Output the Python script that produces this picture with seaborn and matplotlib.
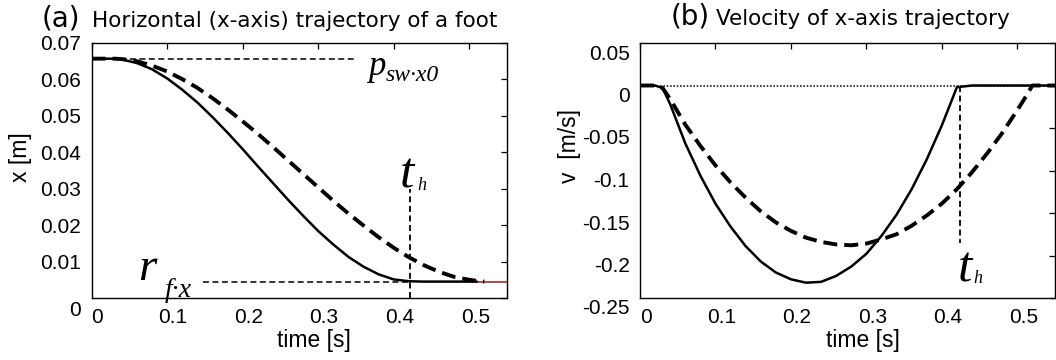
import numpy as np
import pandas as pd
import matplotlib
matplotlib.use("Agg")
import matplotlib.pyplot as plt
import matplotlib.transforms as mtransforms
import seaborn as sns

# ---------------- data ----------------
time_s = [0.00, 0.02, 0.03, 0.04, 0.06, 0.08, 0.10, 0.12, 0.14, 0.16, 0.18,
          0.20, 0.22, 0.24, 0.26, 0.28, 0.30, 0.32, 0.34, 0.36, 0.38, 0.40,
          0.42, 0.44, 0.46, 0.48, 0.50, 0.51, 0.52, 0.54, 0.55]

# (a) horizontal position x [m]
pos_solid = [0.0657, 0.0657, 0.0657, 0.0655, 0.0645, 0.0628, 0.0603, 0.0572,
             0.0537, 0.0497, 0.0454, 0.0409, 0.0362, 0.0316, 0.0270, 0.0226,
             0.0184, 0.0147, 0.0113, 0.0086, 0.0065, 0.0051, 0.0046, 0.0045,
             0.0045, 0.0045, 0.0045, 0.0045, np.nan, np.nan, np.nan]
pos_dashed = [0.0657, 0.0657, 0.0657, 0.0656, 0.0650, 0.0638, 0.0622, 0.0601,
              0.0577, 0.0549, 0.0518, 0.0485, 0.0451, 0.0415, 0.0378, 0.0341,
              0.0304, 0.0267, 0.0232, 0.0199, 0.0167, 0.0138, 0.0112, 0.0090,
              0.0072, 0.0058, 0.0050, 0.0047, 0.0045, np.nan, np.nan]
pos_red = [np.nan] * 27 + [0.0045, 0.0045, 0.0045, 0.0045]

# (b) velocity v [m/s]
vel_solid = [0.0, 0.0, -0.003, -0.022, -0.068, -0.106, -0.139, -0.166, -0.189,
             -0.207, -0.220, -0.228, -0.232, -0.231, -0.224, -0.213, -0.198,
             -0.177, -0.152, -0.122, -0.087, -0.047, -0.002, 0.0, 0.0, 0.0,
             0.0, 0.0, 0.0, 0.0, 0.0]
vel_dashed = [0.0, 0.0, -0.003, -0.016, -0.046, -0.071, -0.094, -0.114, -0.132,
              -0.148, -0.161, -0.171, -0.179, -0.184, -0.187, -0.188, -0.186,
              -0.181, -0.175, -0.165, -0.153, -0.139, -0.122, -0.102, -0.080,
              -0.056, -0.029, -0.015, 0.0, 0.0, 0.0]

# reference values
p_sw_x0 = 0.0657          # start position
r_f_x = 0.0045            # final position
p_line_end = 0.352
r_line_start = 0.147
t_h_a = 0.422
t_h_a_top = 0.030
t_h_b = 0.424
t_h_b_bottom = -0.185

# ticks
x_ticks = [0, 0.1, 0.2, 0.3, 0.4, 0.5]
x_ticklabels = ["0", "0.1", "0.2", "0.3", "0.4", "0.5"]
pos_yticks = [0, 0.01, 0.02, 0.03, 0.04, 0.05, 0.06, 0.07]
pos_yticklabels = ["0", "0.01", "0.02", "0.03", "0.04", "0.05", "0.06", "0.07"]
vel_yticks = [0.05, 0, -0.05, -0.1, -0.15, -0.2, -0.25]
vel_yticklabels = ["0.05", "0", "-0.05", "-0.1", "-0.15", "-0.2", "-0.25"]

# ---------------- styling ----------------
sns.set_theme(style="white")
plt.rcParams["font.family"] = ["Liberation Sans", "DejaVu Sans"]
plt.rcParams["axes.edgecolor"] = "black"
plt.rcParams["text.color"] = "black"
plt.rcParams["axes.labelcolor"] = "black"
plt.rcParams["xtick.color"] = "black"
plt.rcParams["ytick.color"] = "black"

W, H = 1056, 360
fig = plt.figure(figsize=(W / 100, H / 100), dpi=100)
fig.patch.set_facecolor("white")
axL = fig.add_axes([91.5 / W, 62 / H, 415.5 / W, 255 / H])
axR = fig.add_axes([640 / W, 62 / H, 415 / W, 255 / H])

SERIF = ["Liberation Serif", "DejaVu Serif"]


def draw(ax, x, y, lw, dashes=None, color="black", zorder=2):
    df = pd.DataFrame({"t": x, "v": y}).dropna()
    sns.lineplot(data=df, x="t", y="v", ax=ax, color=color, linewidth=lw,
                 estimator=None, sort=False, zorder=zorder)
    line = ax.lines[-1]
    if dashes is not None:
        line.set_dashes(dashes)
        line.set_dash_capstyle("butt")
    return line


# ---- panel (a) ----
draw(axL, time_s, pos_red, 1.4, color="#b44a4a", zorder=1)
draw(axL, [0, p_line_end], [p_sw_x0, p_sw_x0], 1.1, dashes=(3.9, 2.3), zorder=1.5)
draw(axL, [r_line_start, t_h_a], [r_f_x, r_f_x], 1.1, dashes=(3.9, 2.3), zorder=1.5)
draw(axL, [t_h_a, t_h_a], [0, t_h_a_top], 1.3, dashes=(3.3, 2.0), zorder=1.5)
draw(axL, time_s, pos_solid, 1.8)
draw(axL, time_s, pos_dashed, 2.8, dashes=(3.6, 1.8))

# ---- panel (b) ----
draw(axR, [0, 0.55], [0, 0], 1.2, dashes=(1, 1), color="#222222", zorder=1)
draw(axR, [t_h_b, t_h_b], [0, t_h_b_bottom], 1.3, dashes=(3.3, 2.0), zorder=1.5)
draw(axR, time_s, vel_solid, 1.8)
draw(axR, time_s, vel_dashed, 2.8, dashes=(3.6, 1.8))

for ax in (axL, axR):
    ax.set_xlim(0, 0.55)
    ax.set_xticks(x_ticks, x_ticklabels)
    ax.tick_params(direction="in", length=4, width=0.9, top=True, right=True,
                   labelsize=15, pad=7, colors="black", labelcolor="black")
    ax.tick_params(axis="y", pad=7.5)
    for s in ax.spines.values():
        s.set_color("black")
        s.set_linewidth(1.0)
    ax.grid(False)
    ax.set_facecolor("white")

axL.set_ylim(0, 0.07)
axL.set_yticks(pos_yticks, pos_yticklabels)
axR.set_ylim(-0.25, 0.05)
axR.set_yticks(vel_yticks, vel_yticklabels)

axL.set_xlabel("time [s]", fontsize=16.5)
axR.set_xlabel("time [s]", fontsize=16.5)
axL.set_ylabel("x [m]", fontsize=16.5)
axR.set_ylabel("v  [m/s]", fontsize=16.5)
for ax in (axL, axR):
    ax.xaxis.set_label_coords(0.536, -0.122)
axL.yaxis.set_label_coords(-0.142, 0.553)
axR.yaxis.set_label_coords(-0.143, 0.596)

# tick label offsets (as in the reference raster)
def shift(label, dx, dy):
    label.set_transform(label.get_transform() +
                        mtransforms.ScaledTranslation(dx / 100, dy / 100, fig.dpi_scale_trans))

for ax in (axL, axR):
    for lab in ax.get_xticklabels():
        shift(lab, 6, 0)
for lab in axR.get_yticklabels():
    shift(lab, 0, -9)
for lab in axL.get_yticklabels():
    if lab.get_text() == "0":
        shift(lab, 0, -10)

# ---- annotations ----
axL.text(0.3667, 0.0612, "p", fontsize=25, family=SERIF, style="italic", va="baseline")
axL.text(0.390, 0.0596, "sw\u00b7x0", fontsize=17, family=SERIF, style="italic", va="baseline")
axL.text(0.0615, 0.0049, "r", fontsize=34, family=SERIF, style="italic", va="baseline")
axL.text(0.097, 0.0003, "f\u00b7x", fontsize=20, family=SERIF, style="italic", va="baseline")
axL.text(0.4083, 0.0302, "t", fontsize=37, family=SERIF, style="italic", va="baseline")
axL.text(0.4309, 0.0296, "h", fontsize=13, family=SERIF, style="italic", va="baseline")

axR.text(0.4212, -0.2308, "t", fontsize=37, family=SERIF, style="italic", va="baseline")
axR.text(0.4424, -0.2323, "h", fontsize=13, family=SERIF, style="italic", va="baseline")

# ---- titles ----
fig.text(41.7 / W, 1 - 27 / H, "(a)", fontsize=20, family=["DejaVu Sans"], va="baseline")
fig.text(91.7 / W, 1 - 27 / H, "Horizontal (x-axis) trajectory of a foot", fontsize=15.5,
         family=["DejaVu Sans"], va="baseline")
fig.text(671 / W, 1 - 25 / H, "(b)", fontsize=20, family=["DejaVu Sans"], va="baseline")
fig.text(716 / W, 1 - 25 / H, "Velocity of x-axis trajectory", fontsize=15.5,
         family=["DejaVu Sans"], va="baseline")

fig.savefig("out.png", dpi=100, facecolor="white")
